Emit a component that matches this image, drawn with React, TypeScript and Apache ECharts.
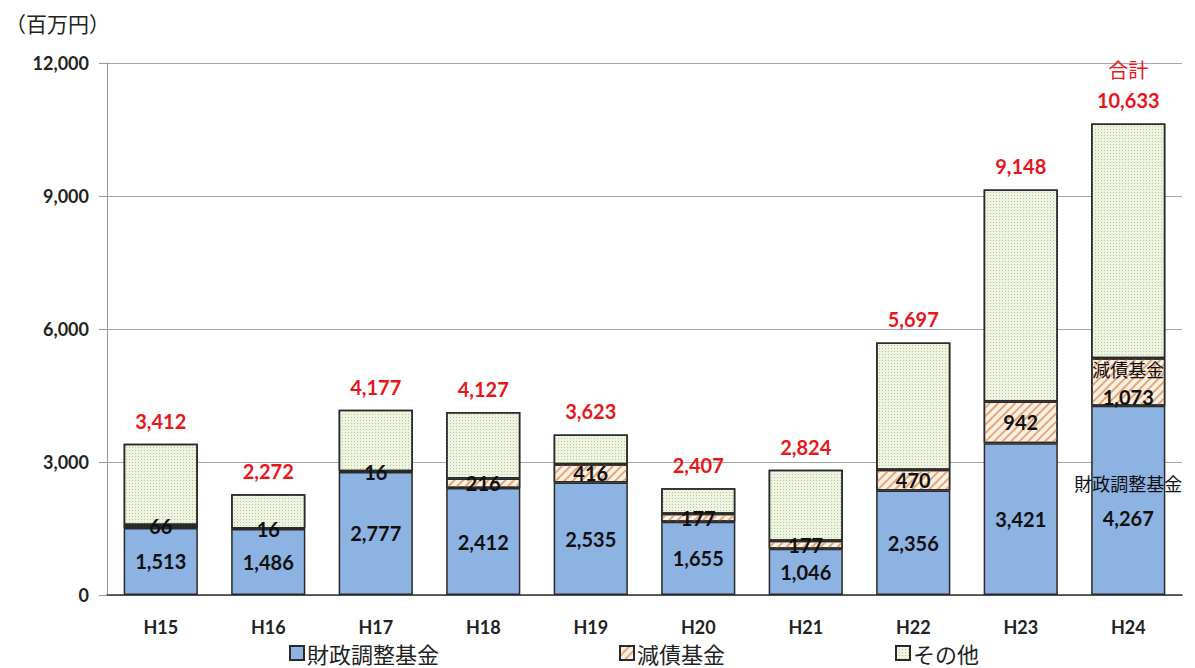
import React, { useEffect, useRef } from "react";
import * as echarts from "echarts";

const categories = ["H15", "H16", "H17", "H18", "H19", "H20", "H21", "H22", "H23", "H24"];
const zaiseiChosei = [1513, 1486, 2777, 2412, 2535, 1655, 1046, 2356, 3421, 4267];
const gensai = [66, 16, 16, 216, 416, 177, 177, 470, 942, 1073];
const totals = [3412, 2272, 4177, 4127, 3623, 2407, 2824, 5697, 9148, 10633];
const sonota = totals.map((t, i) => t - zaiseiChosei[i] - gensai[i]);
const yTicks = [0, 3000, 6000, 9000, 12000];

const seriesNames = ["財政調整基金", "減債基金", "その他"];
const fmt = (v: number) => v.toLocaleString("en-US");

const NUM_FONT = "Lato, 'Noto Sans CJK JP', sans-serif";
const JP_FONT = "'Noto Sans CJK JP', sans-serif";

export default function App() {
  const ref = useRef<HTMLDivElement>(null);
  useEffect(() => {
    if (!ref.current) return;
    const chart = echarts.init(ref.current, undefined, { renderer: "svg" });
    const last = categories.length - 1;
    const barBase = {
      type: "bar",
      stack: "total",
      barWidth: "69%",
    };
    const option: any = {
      animation: false,
      backgroundColor: "#ffffff",
      grid: { left: 107, right: 13, top: 63, bottom: 73 },
      title: {
        text: "（百万円）",
        left: 0,
        top: 7,
        textStyle: { fontFamily: JP_FONT, fontSize: 21, fontWeight: "normal", color: "#222" },
      },
      legend: [0, 1, 2].map((i) => ({
        data: [seriesNames[i]],
        left: [284, 614, 890][i],
        top: 636,
        itemWidth: 14,
        itemHeight: 14,
        itemGap: 4,
        icon: "rect",
        textStyle: { fontFamily: JP_FONT, fontSize: 22, lineHeight: 24, color: "#222", padding: [0, 0, 0, -2] },
      })),
      xAxis: {
        type: "category",
        data: categories,
        axisLine: { lineStyle: { color: "#333", width: 1.5 } },
        axisTick: { show: false },
        axisLabel: { fontFamily: NUM_FONT, fontWeight: "bold", fontSize: 18, color: "#222", margin: 23 },
      },
      yAxis: {
        type: "value",
        min: yTicks[0],
        max: yTicks[yTicks.length - 1],
        interval: 3000,
        axisLine: { show: true, lineStyle: { color: "#999", width: 1 } },
        axisTick: { show: true, length: 8, lineStyle: { color: "#999" } },
        splitLine: { lineStyle: { color: "#a6a6a6", width: 1 } },
        axisLabel: {
          fontFamily: NUM_FONT,
          fontWeight: "bold",
          fontSize: 18,
          color: "#222",
          margin: 18,
          formatter: (v: number) => fmt(v),
        },
      },
      series: [
        {
          ...barBase,
          name: seriesNames[0],
          itemStyle: { color: "#8DB3E2", borderColor: "#2a2a2a", borderWidth: 1.5 },
          data: zaiseiChosei.map((v, i) => ({
            value: v,
            label:
              i === last
                ? {
                    formatter: "{n|財政調整基金}\n{v|" + fmt(v) + "}",
                    offset: [0, 0],
                  }
                : undefined,
          })),
          label: {
            show: true,
            position: "inside",
            fontFamily: NUM_FONT,
            fontWeight: "bold",
            fontSize: 20,
            color: "#111",
            formatter: (p: any) => fmt(p.value),
            rich: {
              n: { fontFamily: JP_FONT, fontSize: 18, fontWeight: "normal", color: "#111", lineHeight: 35 },
              v: { fontFamily: NUM_FONT, fontSize: 20, fontWeight: "bold", color: "#111", lineHeight: 35 },
            },
          },
        },
        {
          ...barBase,
          name: seriesNames[1],
          itemStyle: {
            color: "#FDF0E4",
            borderColor: "#2a2a2a",
            borderWidth: 1.5,
            decal: {
              symbol: "rect",
              symbolSize: 1,
              color: "#E2A878",
              dashArrayX: [1, 0],
              dashArrayY: [1.2, 3.5],
              rotation: -Math.PI / 4,
            },
          },
          data: gensai.map((v, i) => ({
            value: v,
            label:
              i === last
                ? {
                    formatter: "{n|減債基金}\n{v|" + fmt(v) + "}",
                    offset: [0, 1],
                  }
                : undefined,
          })),
          label: {
            show: true,
            position: "inside",
            fontFamily: NUM_FONT,
            fontWeight: "bold",
            fontSize: 20,
            color: "#111",
            formatter: (p: any) => fmt(p.value),
            rich: {
              n: { fontFamily: JP_FONT, fontSize: 18, fontWeight: "normal", color: "#111", lineHeight: 28 },
              v: { fontFamily: NUM_FONT, fontSize: 20, fontWeight: "bold", color: "#111", lineHeight: 28 },
            },
          },
        },
        {
          ...barBase,
          name: seriesNames[2],
          itemStyle: {
            color: "#EEF4E1",
            borderColor: "#2a2a2a",
            borderWidth: 1.5,
            decal: {
              symbol: "rect",
              symbolSize: 1,
              color: "#B4CB95",
              dashArrayX: [1, 2],
              dashArrayY: [1, 2],
              rotation: 0,
            },
          },
          data: sonota.map((v, i) => ({
            value: v,
            label:
              i === last
                ? { formatter: "{t|合計}\n{b|" + fmt(totals[i]) + "}", distance: 8 }
                : undefined,
          })),
          label: {
            show: true,
            position: "top",
            distance: 13,
            fontFamily: NUM_FONT,
            fontWeight: "bold",
            fontSize: 20,
            color: "#E8161A",
            formatter: (p: any) => fmt(totals[p.dataIndex]),
            rich: {
              t: { fontFamily: JP_FONT, fontSize: 20, fontWeight: "normal", color: "#E8161A", lineHeight: 31 },
              b: { fontFamily: NUM_FONT, fontSize: 20, fontWeight: "bold", color: "#E8161A", lineHeight: 31 },
            },
          },
        },
      ],
    };
    chart.setOption(option);
    return () => chart.dispose();
  }, []);
  return <div ref={ref} style={{ width: 1195, height: 668, position: "absolute", left: 0, top: 0 }} />;
}
